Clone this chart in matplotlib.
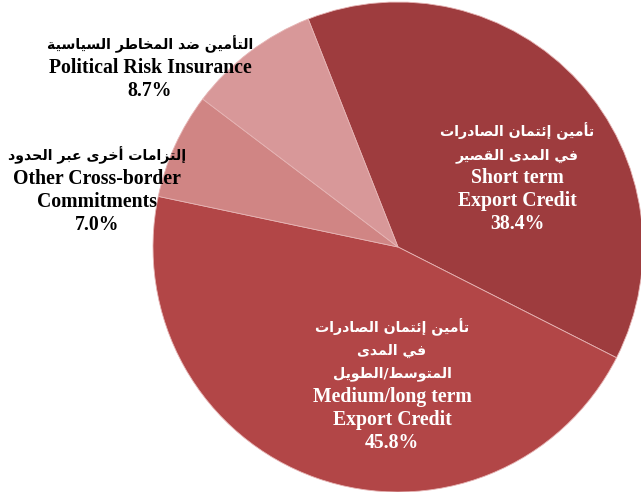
import matplotlib.pyplot as plt

# matplotlib has no arabic shaping, so join letters by hand (presentation forms) and reverse
ar_letters = [chr(c) for c in range(0x621, 0x63B)] + [chr(c) for c in range(0x641, 0x64B)]
ar_counts = [1, 2, 2, 2, 2, 4, 2, 4, 2, 4, 4, 4, 4, 4, 2, 2, 2, 2, 4, 4, 4, 4, 4, 4, 4, 4,
             4, 4, 4, 4, 4, 4, 4, 2, 2, 4]
formes = {}
code = 0xFE80
for ch, n in zip(ar_letters, ar_counts):
    formes[ch] = (code, n)
    code += n


def arabe(s):
    out = []
    for i, ch in enumerate(s):
        if ch not in formes:
            out.append(ch)
            continue
        base, n = formes[ch]
        prev = s[i - 1] if i > 0 else ''
        nxt = s[i + 1] if i + 1 < len(s) else ''
        jp = prev in formes and formes[prev][1] == 4
        jn = n == 4 and nxt in formes
        if jp and jn:
            k = 3
        elif jn:
            k = 2
        elif jp:
            k = 1
        else:
            k = 0
        if n == 1:
            k = 0
        out.append(chr(base + k))
    return ''.join(out)[::-1]


categorias = ['Short term\nExport Credit', 'Medium/long term\nExport Credit',
              'Other Cross-border\nCommitments', 'Political Risk Insurance']
categorias_ar = ['تأمين إئتمان الصادرات\nفي المدى القصير',
                 'تأمين إئتمان الصادرات\nفي المدى\nالمتوسط/الطويل',
                 'إلتزامات أخرى عبر الحدود',
                 'التأمين ضد المخاطر السياسية']
valores = [38.4, 45.8, 7.0, 8.7]
cores = ['#9E3C3E', '#B24647', '#D08584', '#D89899']

W, H = 641, 492
fig = plt.figure(figsize=(W / 100, H / 100), dpi=100)
ax = fig.add_axes([0, 0, 1, 1])
ax.pie(valores, colors=cores, startangle=111.5, counterclock=False,
       center=(398, H - 247), radius=245,
       wedgeprops=dict(edgecolor='#e6b4b4', linewidth=0.6))
ax.set_xlim(0, W)
ax.set_ylim(0, H)
ax.set_aspect('equal')
ax.axis('off')

# label anchors in picture pixels (x, centre of first line), text colour
rotulos = [(517, 131, 'white'), (392, 327, 'white'), (97, 155, 'black'), (150, 44, 'black')]
passo = 22.8
for (x, y, cor), en, ar, v in zip(rotulos, categorias, categorias_ar, valores):
    linhas = [(l, True) for l in ar.split('\n')] + \
             [(l, False) for l in en.split('\n')] + [(f'{v:.1f}%', False)]
    for i, (txt, is_ar) in enumerate(linhas):
        yc = y + i * passo
        if is_ar:
            ax.text(x, H - yc - 5, arabe(txt), ha='center', va='baseline', color=cor,
                    family='DejaVu Sans', fontweight='bold', fontsize=10.2)
        else:
            ax.text(x, H - yc - 6.5, txt, ha='center', va='baseline', color=cor,
                    family='Liberation Serif', fontweight='bold', fontsize=14.2)

fig.savefig('out.png', dpi=100)
